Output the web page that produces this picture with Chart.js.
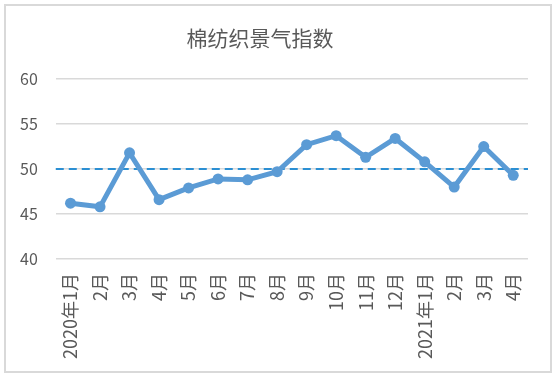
<!DOCTYPE html>
<html>
<head>
<meta charset="utf-8">
<script src="https://cdn.jsdelivr.net/npm/chart.js@4/dist/chart.umd.min.js"></script>
<style>
html,body{margin:0;padding:0;background:#fff;}
#wrap{position:relative;width:560px;height:382px;}
</style>
</head>
<body>
<div id="wrap"><canvas id="c" width="560" height="382"></canvas></div>
<script>
const TITLE = '棉纺织景气指数';
const categories = ['2020年1月','2月','3月','4月','5月','6月','7月','8月','9月','10月','11月','12月','2021年1月','2月','3月','4月'];
const indexValues = [46.2, 45.8, 51.8, 46.6, 47.9, 48.9, 48.8, 49.7, 52.7, 53.7, 51.3, 53.4, 50.8, 48.0, 52.5, 49.3];
const referenceValue = 50;
const yTicks = [40, 45, 50, 55, 60];

const textColor = '#595959';
const font = '"Noto Sans CJK SC", "Noto Sans", sans-serif';

const framePlugin = {
  id: 'frame',
  beforeDraw(chart) {
    const ctx = chart.ctx;
    ctx.save();
    ctx.fillStyle = '#ffffff';
    ctx.fillRect(0, 0, chart.width, chart.height);
    ctx.strokeStyle = '#d9d9d9';
    ctx.lineWidth = 2;
    ctx.strokeRect(5, 5, 546, 367);
    ctx.fillStyle = textColor;
    ctx.font = '21px ' + font;
    ctx.textAlign = 'center';
    ctx.textBaseline = 'middle';
    ctx.fillText(TITLE, 260, 38);
    ctx.restore();
  }
};

const refLinePlugin = {
  id: 'refLine',
  beforeDatasetsDraw(chart) {
    const y = chart.scales.y.getPixelForValue(referenceValue);
    const a = chart.chartArea;
    const ctx = chart.ctx;
    ctx.save();
    ctx.strokeStyle = '#2b8fd3';
    ctx.lineWidth = 2;
    ctx.setLineDash([8, 5]);
    ctx.beginPath();
    ctx.moveTo(a.left, y);
    ctx.lineTo(a.right, y);
    ctx.stroke();
    ctx.restore();
  }
};

new Chart(document.getElementById('c'), {
  type: 'line',
  data: {
    labels: categories,
    datasets: [{
      data: indexValues,
      borderColor: '#5b9bd5',
      backgroundColor: '#5b9bd5',
      borderWidth: 5,
      pointRadius: 5.5,
      pointHoverRadius: 5.5,
      pointBorderWidth: 0,
      tension: 0
    }]
  },
  options: {
    responsive: false,
    animation: false,
    events: [],
    layout: { padding: { left: 2, right: 32, top: 79, bottom: 9 } },
    plugins: { legend: { display: false }, title: { display: false }, tooltip: { enabled: false } },
    scales: {
      x: {
        offset: true,
        grid: { display: false, drawTicks: false },
        border: { display: false },
        ticks: {
          color: textColor,
          font: { size: 18, family: font },
          minRotation: 90,
          maxRotation: 90,
          autoSkip: false,
          padding: 14
        }
      },
      y: {
        min: 40,
        max: 60,
        afterBuildTicks(scale) { scale.ticks = yTicks.map(v => ({ value: v })); },
        grid: { color: '#d9d9d9', lineWidth: 1.5, drawTicks: false },
        border: { display: false },
        ticks: {
          color: textColor,
          font: { size: 16, family: font },
          padding: 18
        }
      }
    }
  },
  plugins: [framePlugin, refLinePlugin]
});
</script>
</body>
</html>
